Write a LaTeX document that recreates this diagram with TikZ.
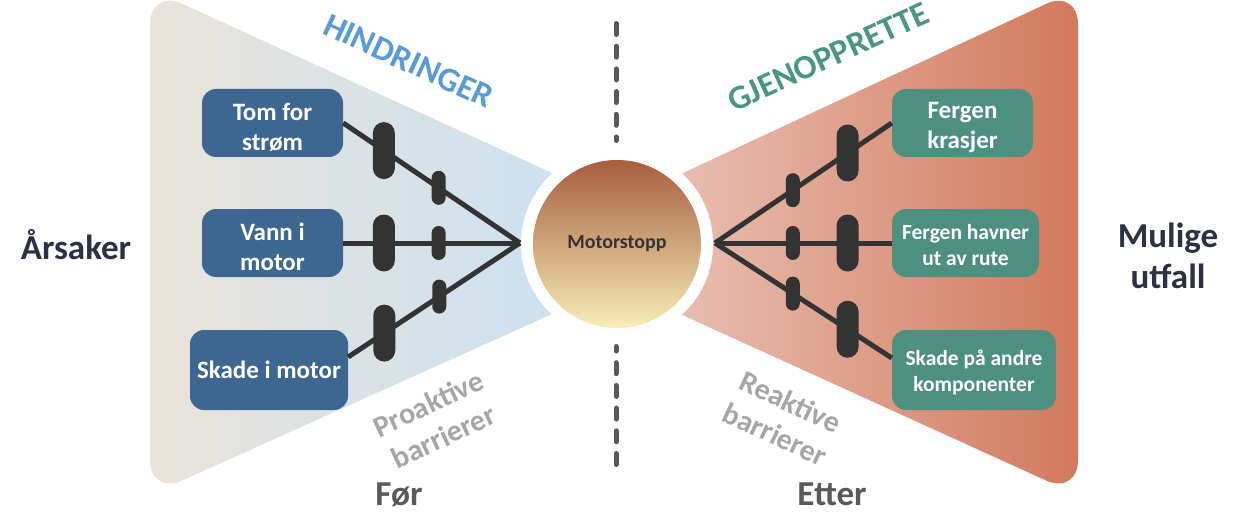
\documentclass[tikz,border=0pt]{standalone}
\usepackage{fontspec}
\setmainfont{Carlito}
\definecolor{navy}{HTML}{2D3047}
\definecolor{boxblue}{HTML}{3D6690}
\definecolor{boxteal}{HTML}{4E9080}
\definecolor{pillc}{HTML}{333333}
\definecolor{hind}{HTML}{5B9BD5}
\definecolor{gjen}{HTML}{4A9680}
\definecolor{barr}{HTML}{A6A6A6}
\definecolor{foer}{HTML}{595959}
\definecolor{wlA}{HTML}{E9E3DA}
\definecolor{wlB}{HTML}{C9E1F3}
\definecolor{wrA}{HTML}{ECC6BB}
\definecolor{wrB}{HTML}{D1795D}
\definecolor{cirT}{HTML}{A65E3E}
\definecolor{cirB}{HTML}{F8EDB8}
\newcommand{\toppad}[1]{\rule{0pt}{#1}}
\begin{document}
\begin{tikzpicture}[x=1pt,y=-1pt,
  conn/.style={line width=5pt, draw=pillc},
  dashline/.style={line width=5pt, draw=foer, line cap=round, dash pattern=on 11pt off 11.7pt},
  bigpill/.style={fill=pillc, rounded corners=11pt, minimum width=22pt, minimum height=57pt, inner sep=0pt},
  smallpill/.style={fill=pillc, rounded corners=7pt, minimum width=14pt, minimum height=34pt, inner sep=0pt},
  cause/.style={fill=boxblue, rounded corners=14pt, text=white, font=\bfseries\fontsize{25}{30}\selectfont, align=center, inner sep=0pt},
  effect/.style={fill=boxteal, rounded corners=14pt, text=white, font=\bfseries\fontsize{25}{30}\selectfont, align=center, inner sep=0pt},
  effectsm/.style={effect, font=\bfseries\fontsize{21.5}{26}\selectfont},
  bigtitle/.style={text=navy, font=\bfseries\fontsize{35}{41}\selectfont, align=center},
  slanted/.style={font=\bfseries\fontsize{34}{40}\selectfont, anchor=base},
  barrtext/.style={text=barr, font=\bfseries\fontsize{30}{36}\selectfont, align=center},
  timetext/.style={text=foer, font=\bfseries\fontsize{35}{41}\selectfont, anchor=base}
]
\useasboundingbox (0,0) rectangle (1234,516);
% wedges
\shade[left color=wlA, right color=wlB, rounded corners=35pt]
  (610,199.5) -- (150,-11) -- (150,495) -- (610,288) -- cycle;
\shade[left color=wrA, right color=wrB, rounded corners=35pt]
  (625,200) -- (1078,-11) -- (1078,495) -- (625,289) -- cycle;
\fill[white] (617,244) circle (96);
% dashed divider
\coordinate (d1) at (616,23.5);
\coordinate (d2) at (616,140.5);
\coordinate (d3) at (616,464.5);
\coordinate (d4) at (616,346.5);
\draw[dashline] (d1) -- (d2);
\draw[dashline] (d3) -- (d4);
% central event
\node[circle, minimum size=168pt, inner sep=0pt, top color=cirT, bottom color=cirB,
  text=pillc, font=\bfseries\fontsize{20}{24}\selectfont] (ms) at (617,244) {Motorstopp};
% convergence points
\coordinate (cL) at (520,243);
\coordinate (cR) at (715,243);
% cause boxes
\node[cause, minimum width=141pt, minimum height=68pt] (b1) at (272.5,123) {\toppad{26pt}Tom for\\strøm};
\node[cause, minimum width=141pt, minimum height=68pt] (b2) at (272.5,243) {\toppad{26pt}Vann i\\motor};
\node[cause, minimum width=158pt, minimum height=80pt] (b3) at (269,370) {Skade i motor};
% effect boxes
\node[effect, minimum width=141pt, minimum height=68pt] (r1) at (962.5,123) {\toppad{26pt}Fergen\\krasjer};
\node[effectsm, minimum width=147pt, minimum height=68pt] (r2) at (965.5,243) {\toppad{20pt}Fergen havner\\ut av rute};
\node[effectsm, minimum width=164pt, minimum height=80pt] (r3) at (974,370) {\toppad{20pt}Skade på andre\\komponenter};
% left connectors with barriers
\draw[conn] (b1.east) -- node[bigpill,pos=.23] (pl1a) {} node[smallpill,pos=.54] (pl1b) {} (cL);
\draw[conn] (b2.east) -- node[bigpill,pos=.23] (pl2a) {} node[smallpill,pos=.54] (pl2b) {} (cL);
\draw[conn] ([yshift=13pt]b3.east) -- node[bigpill,pos=.21] (pl3a) {} node[smallpill,pos=.53] (pl3b) {} (cL);
% right connectors with barriers
\draw[conn] (cR) -- node[smallpill,pos=.44] (pr1b) {} node[bigpill,pos=.75] (pr1a) {} (r1.west);
\draw[conn] (cR) -- node[smallpill,pos=.44] (pr2b) {} node[bigpill,pos=.75] (pr2a) {} (r2.west);
\draw[conn] (cR) -- node[smallpill,pos=.44] (pr3b) {} node[bigpill,pos=.75] (pr3a) {} ([yshift=12pt]r3.west);
% labels
\node[bigtitle, anchor=base] (ars) at (76,259) {Årsaker};
\node[bigtitle] (mul) at (1168,256) {Mulige\\utfall};
\node[slanted, text=hind, rotate=-24.6] (hin) at (404,71) {HINDRINGER};
\node[slanted, text=gjen, rotate=24.5] (gje) at (833,67) {GJENOPPRETTE};
\node[barrtext, rotate=25] (pro) at (436,420) {Proaktive\\barrierer};
\node[barrtext, rotate=-25] (rea) at (783,418) {Reaktive\\barrierer};
\node[timetext] (foer) at (399,505) {Før};
\node[timetext] (etter) at (832,505) {Etter};
\end{tikzpicture}
\end{document}
